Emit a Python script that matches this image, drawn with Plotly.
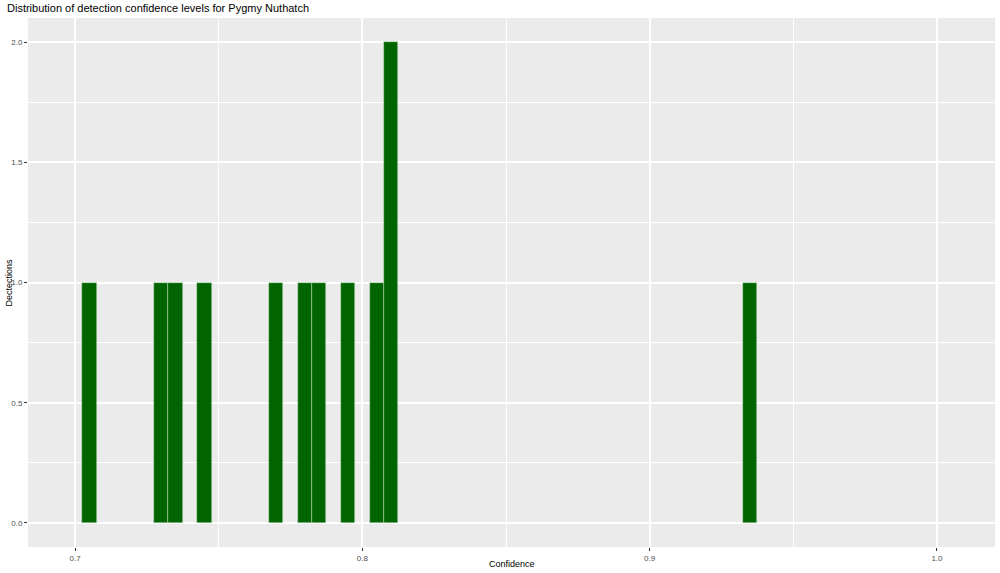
import plotly.graph_objects as go

# Bin centers (confidence) and counts, binwidth 0.005
bin_centers = [0.705, 0.730, 0.735, 0.745, 0.770, 0.780, 0.785, 0.795, 0.805, 0.810, 0.935]
counts = [1, 1, 1, 1, 1, 1, 1, 1, 1, 2, 1]
bin_width = 0.005

x_ticks = [0.7, 0.8, 0.9, 1.0]
x_tick_labels = ["0.7", "0.8", "0.9", "1.0"]
y_ticks = [0.0, 0.5, 1.0, 1.5, 2.0]
y_tick_labels = ["0.0", "0.5", "1.0", "1.5", "2.0"]

fig = go.Figure()
fig.add_trace(go.Bar(
    x=bin_centers, y=counts, width=[bin_width] * len(bin_centers),
    marker=dict(color="#006400", line=dict(color="rgba(200,230,200,0.8)", width=0.6)),
    hoverinfo="x+y",
))

font = "Liberation Sans, Arial, Helvetica, sans-serif"
L, R, T, B = 28, 5, 18, 26
fig.update_layout(
    width=1000, height=573,
    margin=dict(l=L, r=R, t=T, b=B, autoexpand=False),
    paper_bgcolor="white", plot_bgcolor="#EBEBEB",
    showlegend=False, bargap=0,
    font=dict(family=font, color="black"),
    xaxis=dict(
        range=[0.6836, 1.0202], tickvals=x_ticks, ticktext=x_tick_labels,
        showgrid=True, gridcolor="white", gridwidth=1.6,
        minor=dict(dtick=0.05, tick0=0.7, showgrid=True, gridcolor="white", gridwidth=0.8, ticks=""),
        zeroline=False, showline=False, automargin=False,
        ticks="outside", ticklen=3, tickcolor="#333333", tickwidth=1,
        tickfont=dict(size=8, color="#4D4D4D", family=font),
    ),
    yaxis=dict(
        range=[-0.1, 2.1], tickvals=y_ticks, ticktext=y_tick_labels,
        showgrid=True, gridcolor="white", gridwidth=1.6,
        minor=dict(dtick=0.25, tick0=0, showgrid=True, gridcolor="white", gridwidth=0.8, ticks=""),
        zeroline=False, showline=False, automargin=False,
        ticks="outside", ticklen=3, tickcolor="#333333", tickwidth=1,
        tickfont=dict(size=8, color="#4D4D4D", family=font),
    ),
    annotations=[
        dict(text="Distribution of detection confidence levels for Pygmy Nuthatch",
             xref="paper", yref="paper", x=-(L - 5) / (1000 - L - R), y=1 + (T - 8.5) / (573 - T - B),
             xanchor="left", yanchor="middle", showarrow=False,
             font=dict(size=11, color="black", family=font)),
        dict(text="Confidence", xref="paper", yref="paper", x=0.5, y=-(564 - (573 - B)) / (573 - T - B),
             xanchor="center", yanchor="middle", showarrow=False,
             font=dict(size=9, color="black", family=font)),
        dict(text="Dectections", xref="paper", yref="paper", x=-(L - 8) / (1000 - L - R), y=0.5,
             xanchor="center", yanchor="middle", showarrow=False, textangle=-90,
             font=dict(size=9, color="black", family=font)),
    ],
)

fig.write_html("out.html", config={"displayModeBar": False},
               post_script="document.body.style.margin='0';document.body.style.overflow='hidden';")
